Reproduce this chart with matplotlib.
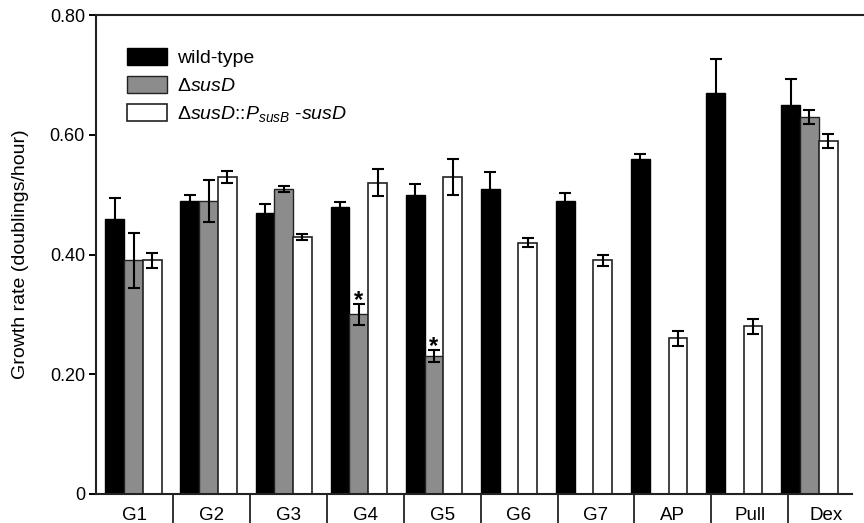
import numpy as np
import matplotlib
matplotlib.use("Agg")
import matplotlib.pyplot as plt

plt.rcParams['font.family'] = ['Liberation Sans', 'DejaVu Sans']
plt.rcParams['mathtext.fontset'] = 'custom'
plt.rcParams['mathtext.rm'] = 'Liberation Sans'
plt.rcParams['mathtext.it'] = 'Liberation Sans:italic'
plt.rcParams['mathtext.bf'] = 'Liberation Sans:bold'

nan = np.nan
categories = ['G1', 'G2', 'G3', 'G4', 'G5', 'G6', 'G7', 'AP', 'Pull', 'Dex']
wild_type = [0.46, 0.49, 0.47, 0.48, 0.50, 0.51, 0.49, 0.56, 0.67, 0.65]
wild_type_err = [0.035, 0.009, 0.015, 0.008, 0.017, 0.027, 0.012, 0.008, 0.056, 0.043]
delta_susD = [0.39, 0.49, 0.51, 0.30, 0.23, nan, nan, nan, nan, 0.63]
delta_susD_err = [0.046, 0.035, 0.005, 0.017, 0.010, nan, nan, nan, nan, 0.012]
complemented = [0.39, 0.53, 0.43, 0.52, 0.53, 0.42, 0.39, 0.26, 0.28, 0.59]
complemented_err = [0.013, 0.010, 0.005, 0.023, 0.030, 0.008, 0.010, 0.012, 0.012, 0.012]
significant = ['G4', 'G5']
yticks = [0, 0.20, 0.40, 0.60, 0.80]
ytick_labels = ['0', '0.20', '0.40', '0.60', '0.80']

labels = ['wild-type', r'$\Delta\mathit{susD}$',
          r'$\Delta\mathit{susD}$::$\mathit{P}_{\mathit{susB}}$ -$\mathit{susD}$']

W, H = 864, 523
fig = plt.figure(figsize=(W / 100, H / 100), dpi=100)
ax_l, ax_r, ax_t, ax_b = 96, 863, 15, 494
ax = fig.add_axes([ax_l / W, 1 - ax_b / H, (ax_r - ax_l) / W, (ax_b - ax_t) / H])

x = np.arange(len(categories))
bw = 0.25
ekw = dict(elinewidth=1.5, capthick=1.5, capsize=4.3, ecolor='black')
b1 = ax.bar(x - bw, wild_type, bw, yerr=wild_type_err, color='black',
            edgecolor='black', linewidth=1.0, error_kw=ekw, label=labels[0])
b2 = ax.bar(x, delta_susD, bw, yerr=delta_susD_err, color='#8c8c8c',
            edgecolor='#222222', linewidth=1.0, error_kw=ekw, label=labels[1])
b3 = ax.bar(x + bw, complemented, bw, yerr=complemented_err, color='white',
            edgecolor='#222222', linewidth=1.2, error_kw=ekw, label=labels[2])

for cat in significant:
    i = categories.index(cat)
    ax.annotate('*', (x[i], delta_susD[i] + delta_susD_err[i]), xytext=(0, -2),
                textcoords='offset points', ha='center', va='baseline',
                fontsize=17, fontweight='bold')

# pixel mapping: group center at 133.5 + 75.1*i
gpx0, gstep = 133.5, 75.1
ax.set_xlim((ax_l - gpx0) / gstep, (ax_r - gpx0) / gstep)
ax.set_ylim(0, 0.80)
ax.set_yticks(yticks)
ax.set_yticklabels(ytick_labels)
ax.set_xticks([])
ax.tick_params(axis='y', direction='out', length=5, width=1.4, labelsize=13,
               pad=3)
for s in ['left', 'bottom', 'top']:
    ax.spines[s].set_linewidth(1.5)
    ax.spines[s].set_color('#222222')
ax.spines['right'].set_visible(False)
ax.spines['bottom'].set_bounds((ax_l - gpx0) / gstep, (852 - gpx0) / gstep)

ax.set_ylabel('Growth rate (doublings/hour)', fontsize=14)
ax.yaxis.set_label_coords((29 - ax_l) / (ax_r - ax_l), 0.5)

# category cells below the axis
cell0, cstep = 96, 76.9
seps = [173 + cstep * k for k in range(9)]
for sp in seps:
    fx = sp / W
    fig.add_artist(plt.Line2D([fx, fx], [1 - ax_b / H, 0], color='#222222',
                              linewidth=1.3))
edges = [cell0] + seps + [865]
for i, cat in enumerate(categories):
    cx = (edges[i] + edges[i + 1]) / 2
    fig.text(cx / W, 1 - 520 / H, cat, ha='center', va='baseline', fontsize=13.5)

leg = ax.legend(handles=[b1, b2, b3], labels=labels, loc='upper left',
                bbox_to_anchor=(127 / W, 1 - 48 / H), bbox_transform=fig.transFigure,
                frameon=False, fontsize=14, handlelength=2.06, handleheight=0.98,
                handletextpad=0.5, labelspacing=0.45, borderpad=0,
                borderaxespad=0)

fig.savefig('out.png', dpi=100)
